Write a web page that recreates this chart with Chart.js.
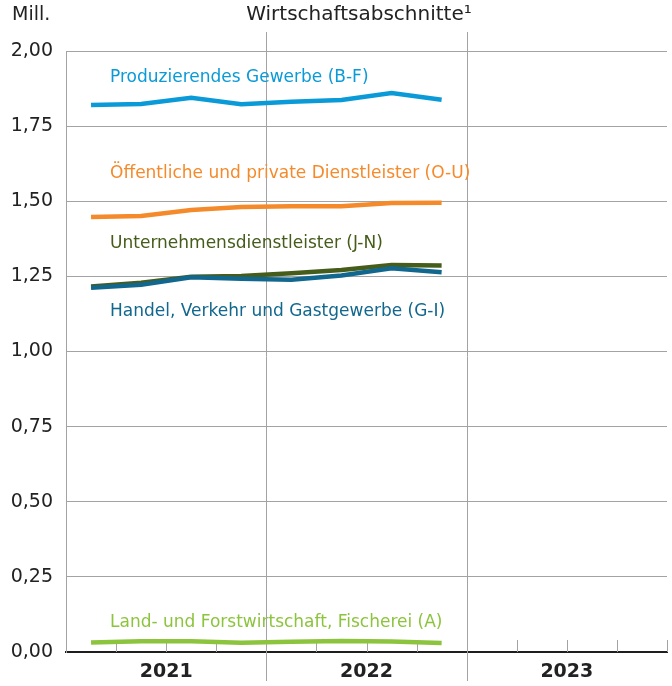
<!DOCTYPE html>
<html lang="de">
<head>
<meta charset="utf-8">
<script src="https://cdn.jsdelivr.net/npm/chart.js@4/dist/chart.umd.min.js"></script>
<style>
  html, body { margin: 0; padding: 0; background: #ffffff; }
  #wrap { position: relative; width: 672px; height: 686px; }
</style>
</head>
<body>
<div id="wrap"><canvas id="c" width="672" height="686"></canvas></div>
<script>
// Erwerbstätige nach Wirtschaftsabschnitten, Quartale 2021–2022 (Mill.)
const years = ['2021', '2022', '2023'];
const quarterPositions = [0.5, 1.5, 2.5, 3.5, 4.5, 5.5, 6.5, 7.5];

const produzierendesGewerbe = [1.820, 1.824, 1.844, 1.823, 1.831, 1.837, 1.860, 1.838];
const oeffentlicheDienstleister = [1.448, 1.451, 1.471, 1.481, 1.483, 1.483, 1.494, 1.495];
const unternehmensdienstleister = [1.216, 1.229, 1.249, 1.251, 1.260, 1.271, 1.288, 1.286];
const handelVerkehrGastgewerbe = [1.212, 1.222, 1.247, 1.242, 1.239, 1.253, 1.277, 1.264];
const landForstFischerei = [0.032, 0.036, 0.036, 0.031, 0.034, 0.037, 0.035, 0.030];

const seriesNames = [
  'Produzierendes Gewerbe (B-F)',
  'Öffentliche und private Dienstleister (O-U)',
  'Unternehmensdienstleister (J-N)',
  'Handel, Verkehr und Gastgewerbe (G-I)',
  'Land- und Forstwirtschaft, Fischerei (A)'
];
const seriesValues = [
  produzierendesGewerbe,
  oeffentlicheDienstleister,
  unternehmensdienstleister,
  handelVerkehrGastgewerbe,
  landForstFischerei
];
const seriesColors = ['#0a9ad7', '#f58a2b', '#465c1b', '#12678e', '#8cc43e'];
// vertical offset of each series name from its first point, in pixels
const nameOffsets = [-28, -43, -43, 24, -20];

const FONT = '"DejaVu Sans", sans-serif';
const GRID = '#a3a3a3';

// Handel is drawn beneath Unternehmensdienstleister
const drawOrder = [0, 1, 3, 2, 4];
const datasets = drawOrder.map(i => ({
  label: seriesNames[i],
  data: seriesValues[i].map((v, k) => ({ x: quarterPositions[k], y: v })),
  borderColor: seriesColors[i],
  backgroundColor: seriesColors[i],
  borderWidth: 4.5,
  pointRadius: 0,
  tension: 0,
  fill: false
}));

const decorations = {
  id: 'decorations',
  beforeDatasetsDraw(chart) {
    const { ctx, chartArea, scales } = chart;
    const xs = scales.x;
    ctx.save();
    ctx.strokeStyle = GRID;
    ctx.lineWidth = 1;
    // year separators
    [4, 8].forEach(v => {
      const px = Math.round(xs.getPixelForValue(v)) + 0.5;
      ctx.beginPath();
      ctx.moveTo(px, chartArea.top - 19);
      ctx.lineTo(px, chartArea.bottom + 29);
      ctx.stroke();
    });
    // quarter marks on the baseline
    for (let v = 1; v <= 12; v++) {
      if (v === 4 || v === 8) continue;
      const px = Math.round(xs.getPixelForValue(v)) + 0.5;
      ctx.beginPath();
      ctx.moveTo(px, chartArea.bottom - 12);
      ctx.lineTo(px, chartArea.bottom);
      ctx.stroke();
    }
    ctx.restore();
  },
  afterDraw(chart) {
    const { ctx, scales } = chart;
    ctx.save();
    ctx.textBaseline = 'middle';
    ctx.fillStyle = '#222222';
    ctx.font = '19px ' + FONT;
    ctx.textAlign = 'left';
    ctx.fillText('Mill.', 12, 15);
    ctx.font = '20px ' + FONT;
    ctx.textAlign = 'center';
    ctx.fillText('Wirtschaftsabschnitte\u00B9', 359, 15);
    // series names
    ctx.font = '17px ' + FONT;
    ctx.textAlign = 'left';
    seriesNames.forEach((name, i) => {
      const x0 = scales.x.getPixelForValue(quarterPositions[0]) + 19;
      const y0 = scales.y.getPixelForValue(seriesValues[i][0]) + nameOffsets[i];
      ctx.fillStyle = seriesColors[i];
      ctx.fillText(name, x0, y0);
    });
    ctx.restore();
  }
};

new Chart(document.getElementById('c'), {
  type: 'line',
  data: { datasets },
  options: {
    responsive: false,
    animation: false,
    events: [],
    layout: { padding: { top: 51, right: 5, left: 0, bottom: 0 } },
    plugins: { legend: { display: false }, tooltip: { enabled: false }, title: { display: false } },
    scales: {
      x: {
        type: 'linear',
        min: 0,
        max: 12,
        afterFit(s) { s.height = 34; s.paddingLeft = 0; s.paddingRight = 0; },
        grid: { display: false, drawTicks: false },
        border: { display: true, color: '#1e1e1e', width: 2 },
        ticks: {
          stepSize: 1,
          autoSkip: false,
          maxRotation: 0,
          padding: 9,
          color: '#222222',
          font: { family: FONT, size: 19, weight: 'bold' },
          callback: v => (v % 4 === 2 ? years[(v - 2) / 4] : '')
        }
      },
      y: {
        min: 0,
        max: 2,
        afterFit(s) { s.width = 66; },
        grid: {
          drawTicks: false,
          color: c => (c.tick && c.tick.value === 0 ? 'rgba(0,0,0,0)' : GRID),
          lineWidth: 1
        },
        border: { display: true, color: GRID, width: 1 },
        ticks: {
          stepSize: 0.25,
          padding: 13,
          color: '#222222',
          font: { family: FONT, size: 19 },
          callback: v => v.toFixed(2).replace('.', ',')
        }
      }
    }
  },
  plugins: [decorations]
});
</script>
</body>
</html>
